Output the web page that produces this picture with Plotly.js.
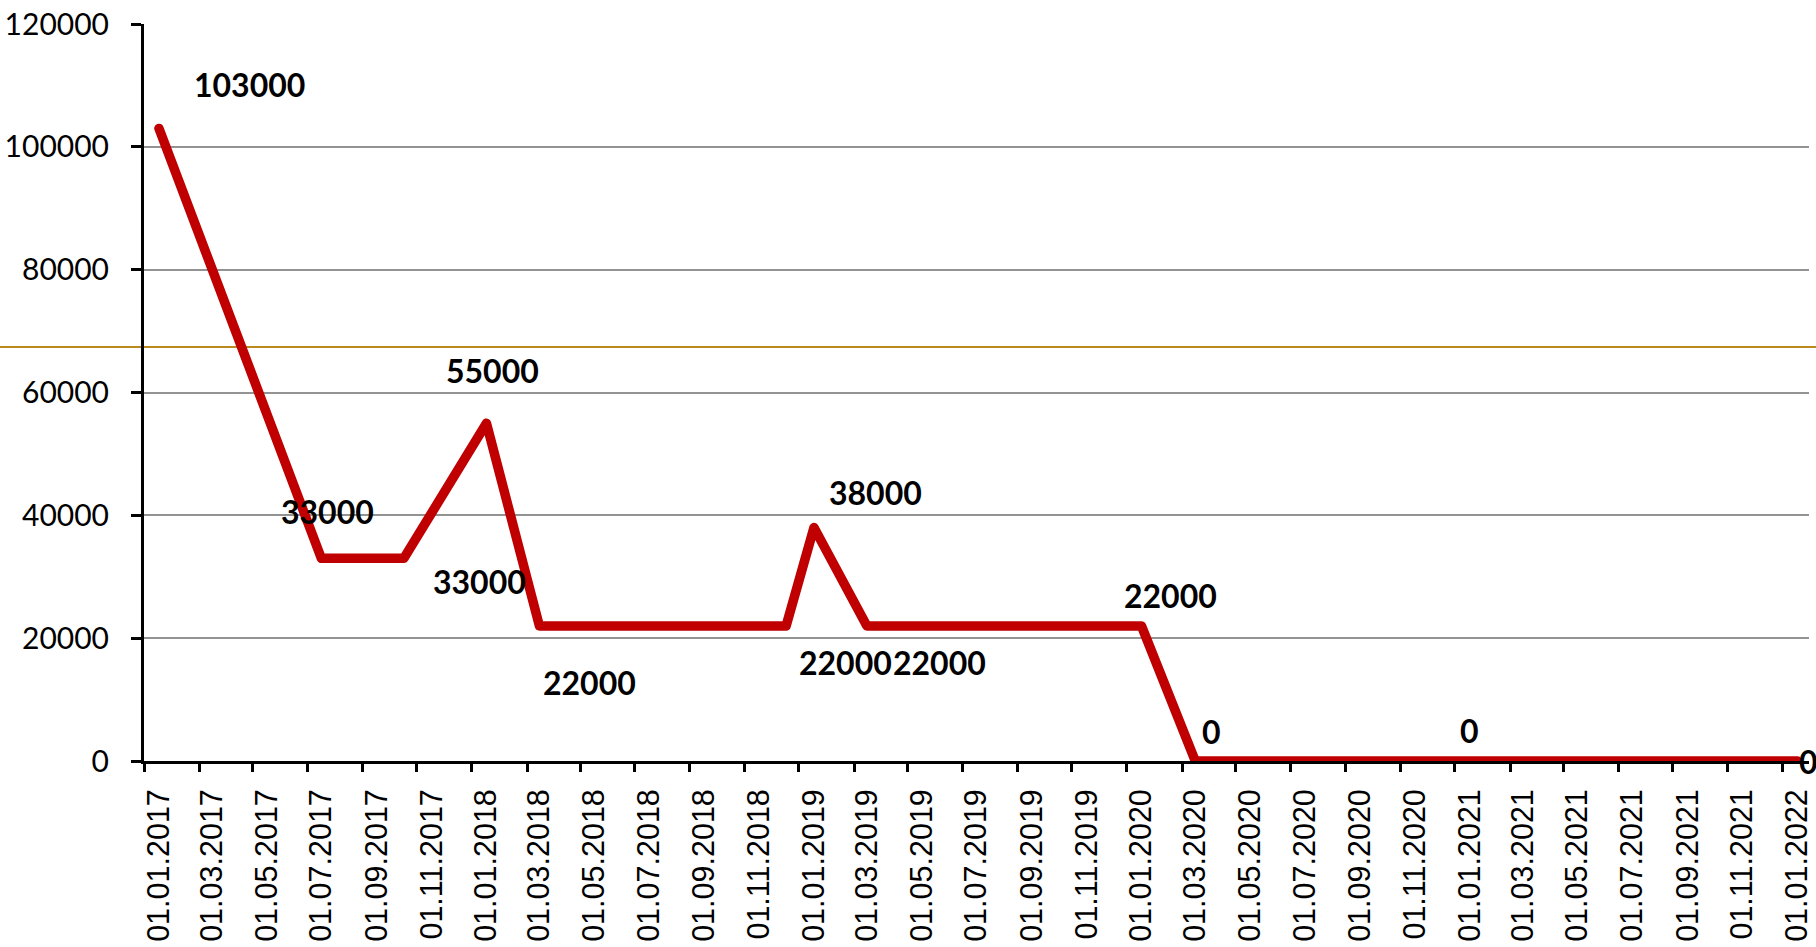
<!DOCTYPE html>
<html>
<head>
<meta charset="utf-8">
<script src="https://cdn.plot.ly/plotly-3.0.1.min.js"></script>
<style>
html, body { margin: 0; padding: 0; background: #ffffff; }
#chart { width: 1816px; height: 947px; }
.scatterlayer path.js-line { stroke-linejoin: round; stroke-linecap: round; }
</style>
</head>
<body>
<div id="chart"></div>
<script>
// ---- data ----
const dates = ['2017-01-01', '2017-07-01', '2017-10-01', '2018-01-01', '2018-03-01', '2018-12-01',
               '2019-01-01', '2019-03-01', '2020-01-01', '2020-03-01', '2021-01-01', '2022-01-01'];
const values = [103000, 33000, 33000, 55000, 22000, 22000, 38000, 22000, 22000, 0, 0, 0];
const pointLabels = ['103000', '33000', '33000', '55000', '22000', '22000',
                     '38000', '22000', '22000', '0', '0', '0'];
const yTickValues = [0, 20000, 40000, 60000, 80000, 100000, 120000];
const yTickLabels = ['0', '20000', '40000', '60000', '80000', '100000', '120000'];
const refLineValue = 67400;

// ---- label placement (pixel shifts, layout only) ----
const labelShiftX = [91, 6, 76, 6, 50, 59, 62, 73, 29, 16, 0, 11];
const labelShiftY = [44, 47, -23, 53, -57, -37, 35, -37, 30, 30, 31, 0];

const xRange = ['2016-12-15 08:00', '2022-01-14'];

const traces = [
  {
    x: dates, y: values, type: 'scatter', mode: 'lines',
    line: { color: '#C00000', width: 9.5 },
    hoverinfo: 'x+y', xaxis: 'x', yaxis: 'y'
  },
  {
    x: dates, y: values, type: 'scatter', mode: 'lines',
    line: { color: 'rgba(0,0,0,0)', width: 0 },
    hoverinfo: 'skip', showlegend: false, xaxis: 'x2', yaxis: 'y'
  }
];

const annotations = dates.map((d, i) => ({
  x: d, y: values[i], xref: 'x', yref: 'y',
  text: pointLabels[i], showarrow: false,
  xanchor: 'center', yanchor: 'middle',
  xshift: labelShiftX[i], yshift: labelShiftY[i],
  font: { family: 'Lato, "Open Sans", sans-serif', size: 32, color: '#000000', weight: 'bold' }
}));

const layout = {
  width: 1816, height: 947,
  margin: { l: 144, r: 7, t: 24, b: 186, pad: 0 },
  paper_bgcolor: '#ffffff', plot_bgcolor: '#ffffff',
  showlegend: false,
  xaxis: {
    type: 'date', range: xRange,
    tick0: '2017-01-01', dtick: 'M2', tickformat: '%d.%m.%Y',
    tickangle: -90, ticks: 'outside', ticklen: 10, tickcolor: 'rgba(0,0,0,0)',
    ticklabelstandoff: 3,
    tickfont: { family: '"Liberation Sans", Arial, sans-serif', size: 30.5, color: '#000000' },
    showgrid: false, zeroline: false,
    showline: true, linecolor: '#000000', linewidth: 3,
    fixedrange: true
  },
  xaxis2: {
    type: 'date', range: xRange, overlaying: 'x', anchor: 'y', side: 'bottom',
    tick0: '2016-12-15 08:00', dtick: 'M2',
    ticks: 'outside', ticklen: 10, tickwidth: 3, tickcolor: '#000000',
    showticklabels: false, showgrid: false, zeroline: false, showline: false,
    fixedrange: true
  },
  yaxis: {
    range: [0, 120000], tickvals: yTickValues, ticktext: yTickLabels,
    ticks: 'outside', ticklen: 10, tickwidth: 3, tickcolor: '#000000',
    ticklabelstandoff: 16,
    tickfont: { family: 'Lato, "Open Sans", sans-serif', size: 30, color: '#000000' },
    showgrid: true, gridcolor: '#939393', gridwidth: 2,
    zeroline: false, showline: true, linecolor: '#000000', linewidth: 3,
    fixedrange: true
  },
  shapes: [{
    type: 'line', xref: 'paper', yref: 'y',
    x0: -0.1, x1: 1.05, y0: refLineValue, y1: refLineValue,
    line: { color: '#BA8A1E', width: 2 }, layer: 'below'
  }],
  annotations: annotations
};

Plotly.newPlot('chart', traces, layout, { displayModeBar: false, staticPlot: true });
</script>
</body>
</html>
